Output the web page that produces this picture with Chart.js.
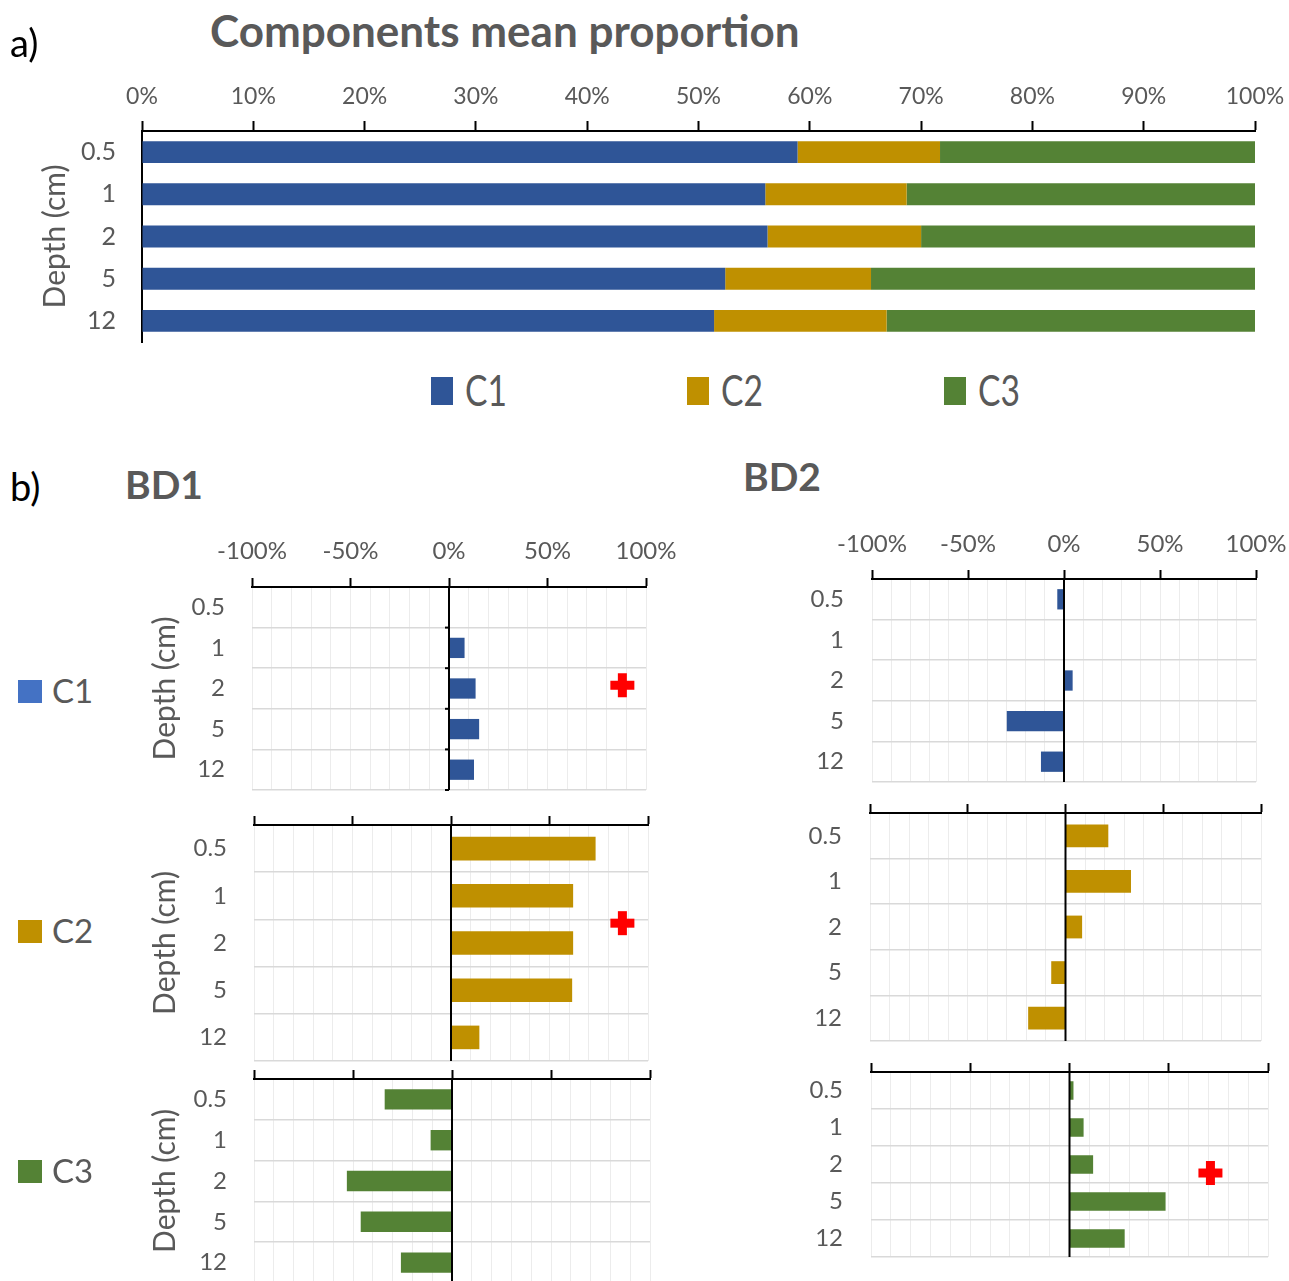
<!DOCTYPE html>
<html>
<head>
<meta charset="utf-8">
<title>Components mean proportion</title>
<script src="https://cdn.jsdelivr.net/npm/chart.js@4.4.1/dist/chart.umd.min.js"></script>
<style>
  html, body { margin: 0; padding: 0; background: #ffffff; }
  body { width: 1289px; height: 1281px; position: relative; overflow: hidden; font-family: Lato, "Open Sans", sans-serif; }
  .txt { position: absolute; white-space: nowrap; line-height: 1; }
  .swatch { position: absolute; }
  canvas { position: absolute; }
</style>
</head>
<body>
<canvas id="meanChart" width="1289" height="290" style="left:0;top:60px"></canvas>
<canvas id="bd1c1" width="586" height="281" style="left:100px;top:515px"></canvas>
<canvas id="bd1c2" width="588" height="265" style="left:100px;top:800px"></canvas>
<canvas id="bd1c3" width="590" height="224" style="left:100px;top:1062px"></canvas>
<canvas id="bd2c1" width="529" height="279" style="left:760px;top:508px"></canvas>
<canvas id="bd2c2" width="529" height="250" style="left:760px;top:795px"></canvas>
<canvas id="bd2c3" width="529" height="210" style="left:760px;top:1052px"></canvas>

<script>
// Sampling depths (cm), top to bottom
const depthLabels = ['0.5', '1', '2', '5', '12'];
const componentNames = ['C1', 'C2', 'C3'];

// Mean proportion of each component per depth (%)
const meanC1 = [58.9, 56.0, 56.2, 52.4, 51.4];
const meanC2 = [12.8, 12.7, 13.8, 13.1, 15.5];
const meanC3 = [28.3, 31.3, 30.0, 34.5, 33.1];

// Relative change per depth, site BD1 (%)
const bd1C1 = [0, 7.9, 13.5, 15.3, 12.7];
const bd1C2 = [73.4, 62.0, 62.0, 61.5, 14.4];
const bd1C3 = [-34.0, -10.8, -53.1, -46.1, -25.8];

// Relative change per depth, site BD2 (%)
const bd2C1 = [-3.5, 0, 4.5, -29.8, -12.0];
const bd2C2 = [21.9, 33.5, 8.5, -7.3, -19.1];
const bd2C3 = [2.0, 7.1, 11.9, 48.4, 27.8];

// Significance markers: [x value (%), depth position (category index)]
const bd1C1Mark = [88, 1.92];
const bd1C2Mark = [87, 1.58];
const bd2C3Mark = [71, 2.23];

const colours = { C1: '#2F5597', C2: '#BF9000', C3: '#548235' };
const sideKeyColours = { C1: '#4472C4', C2: '#BF9000', C3: '#548235' };
const textGrey = '#595959';

Chart.defaults.font.family = 'Lato, "Open Sans", sans-serif';
Chart.defaults.color = textGrey;

// ---------- plain text labels ----------
function placeText(txt, x, baseline, size, opts = {}) {
  const d = document.createElement('div');
  d.className = 'txt';
  d.textContent = txt;
  d.style.fontSize = size + 'px';
  d.style.left = x + 'px';
  d.style.top = (baseline - 0.887 * size) + 'px';
  d.style.color = opts.color || textGrey;
  d.style.fontWeight = opts.bold ? '700' : '400';
  if (opts.scaleX) { d.style.transformOrigin = 'left top'; d.style.transform = 'scaleX(' + opts.scaleX + ')'; }
  document.body.appendChild(d);
  return d;
}
function placeSwatch(x, y, w, h, colour) {
  const s = document.createElement('div');
  s.className = 'swatch';
  Object.assign(s.style, { left: x + 'px', top: y + 'px', width: w + 'px', height: h + 'px', background: colour });
  document.body.appendChild(s);
}

placeText('a)', 10, 57, 38, { color: '#000' });
placeText('Components mean proportion', 210, 47, 44, { bold: true });
placeText('b)', 10, 501, 38, { color: '#000' });
placeText('BD1', 125, 500, 39, { bold: true });
placeText('BD2', 743, 492, 39, { bold: true });

// legend of the stacked chart
const topKeyX = [431, 687, 944];
componentNames.forEach((name, i) => {
  placeSwatch(topKeyX[i], 377, 22, 28, colours[name]);
  placeText(name, topKeyX[i] + 34, 406, 42, { scaleX: 0.8 });
});

// side keys for the three rows of BD panels
const sideKeyY = [691, 931, 1171];
componentNames.forEach((name, i) => {
  placeSwatch(18, sideKeyY[i] - 11, 24, 23, sideKeyColours[name]);
  placeText(name, 52, sideKeyY[i] + 12, 33);
});

// ---------- overlay: zero axis, small depth ticks and markers ----------
const overlayPlugin = {
  id: 'overlay',
  afterDatasetsDraw(chart, args, opts) {
    const { ctx, chartArea, scales: { x, y } } = chart;
    ctx.save();
    if (opts.zeroLine) {
      const x0 = x.getPixelForValue(0);
      ctx.strokeStyle = '#000';
      ctx.lineWidth = 2;
      ctx.beginPath();
      ctx.moveTo(x0, chartArea.top);
      ctx.lineTo(x0, chartArea.bottom);
      ctx.stroke();
      if (opts.zeroTicks) {
        for (let i = 1; i <= depthLabels.length; i++) {
          const yb = y.getPixelForValue(i - 0.5);
          ctx.beginPath();
          ctx.moveTo(x0 - 4, yb);
          ctx.lineTo(x0, yb);
          ctx.stroke();
        }
      }
    }
    if (opts.mark) {
      const cx = x.getPixelForValue(opts.mark[0]);
      const cy = y.getPixelForValue(opts.mark[1]);
      const half = 12, arm = 4.5;
      ctx.fillStyle = '#FF0000';
      ctx.fillRect(cx - half, cy - arm, half * 2, arm * 2);
      ctx.fillRect(cx - arm, cy - half, arm * 2, half * 2);
    }
    ctx.restore();
  }
};

// ---------- a) stacked mean proportion ----------
new Chart(document.getElementById('meanChart'), {
  type: 'bar',
  data: {
    labels: depthLabels,
    datasets: [
      { label: 'C1', data: meanC1, backgroundColor: colours.C1 },
      { label: 'C2', data: meanC2, backgroundColor: colours.C2 },
      { label: 'C3', data: meanC3, backgroundColor: colours.C3 }
    ].map(d => Object.assign(d, { barPercentage: 0.52, categoryPercentage: 1, borderWidth: 0 }))
  },
  options: {
    indexAxis: 'y',
    responsive: false,
    animation: false,
    events: [],
    devicePixelRatio: 1,
    layout: { padding: { left: 0, top: 0, right: 34, bottom: 8 } },
    plugins: { legend: { display: false }, tooltip: { enabled: false } },
    scales: {
      x: {
        position: 'top', stacked: true, min: 0, max: 100,
        ticks: { stepSize: 10, autoSkip: false, maxRotation: 0, padding: 11, font: { size: 23 }, color: textGrey,
                 callback: v => v + '%' },
        grid: { drawOnChartArea: false, drawTicks: true, tickLength: 10, tickColor: '#000', tickWidth: 2 },
        border: { display: true, color: '#000', width: 2 },
        afterFit: s => { s.height = 71; s.paddingLeft = 0; s.paddingRight = 0; }
      },
      y: {
        stacked: true, z: 1,
        ticks: { autoSkip: false, padding: 26, font: { size: 25 }, color: textGrey },
        grid: { drawOnChartArea: false, drawTicks: false },
        border: { display: true, color: '#000', width: 2 },
        title: { display: true, text: 'Depth (cm)', font: { size: 30 }, color: textGrey, padding: { top: 37, bottom: 0 } },
        afterFit: s => { s.width = 142; s.paddingTop = 0; s.paddingBottom = 0; }
      }
    }
  }
});

// ---------- b) change panels ----------
// spec.left/top/right/bottom: chart-area edges in canvas coordinates
function changePanel(id, values, colour, spec) {
  const cv = document.getElementById(id);
  new Chart(cv, {
    type: 'bar',
    data: {
      labels: depthLabels,
      datasets: [{ data: values, backgroundColor: colour, barPercentage: 0.5, categoryPercentage: 1, borderWidth: 0 }]
    },
    options: {
      indexAxis: 'y',
      responsive: false,
      animation: false,
      events: [],
      devicePixelRatio: 1,
      layout: { padding: { left: 0, top: 0, right: cv.width - spec.right, bottom: cv.height - spec.bottom } },
      plugins: {
        legend: { display: false }, tooltip: { enabled: false },
        overlay: { zeroLine: true, zeroTicks: !!spec.zeroTicks, mark: spec.mark || null }
      },
      scales: {
        x: {
          position: 'top', min: -100, max: 100,
          ticks: { display: !!spec.showTicks, stepSize: 10, autoSkip: false, maxRotation: 0, padding: spec.tickPad || 12,
                   font: { size: 24 }, color: textGrey,
                   callback: v => (v % 50 === 0 ? v + '%' : '') },
          grid: {
            color: c => (c.tick && c.tick.value === 0 ? 'rgba(0,0,0,0)' : '#ececec'),
            lineWidth: 1,
            drawTicks: true, tickLength: 9, tickWidth: 2,
            tickColor: c => (c.tick && c.tick.value % 50 === 0 ? '#000' : 'rgba(0,0,0,0)')
          },
          border: { display: true, color: '#000', width: 2 },
          afterFit: s => { s.height = spec.top; s.paddingLeft = 0; s.paddingRight = 0; }
        },
        y: {
          ticks: { autoSkip: false, padding: spec.labelPad, font: { size: 24 }, color: textGrey },
          grid: { offset: true, color: '#d9d9d9', lineWidth: 1.5, drawTicks: false },
          border: { display: false },
          title: { display: !!spec.yTitle, text: 'Depth (cm)', font: { size: 30 }, color: textGrey, padding: { top: 47, bottom: 0 } },
          afterFit: s => { s.width = spec.left; s.paddingTop = 0; s.paddingBottom = 0; }
        }
      }
    },
    plugins: [overlayPlugin]
  });
}

changePanel('bd1c1', bd1C1, colours.C1, { left: 152, top: 72, right: 546, bottom: 275, showTicks: true, tickPad: 12.6, labelPad: 27, yTitle: true, zeroTicks: true, mark: bd1C1Mark });
changePanel('bd1c2', bd1C2, colours.C2, { left: 154, top: 25, right: 548, bottom: 261, labelPad: 27, yTitle: true, mark: bd1C2Mark });
changePanel('bd1c3', bd1C3, colours.C3, { left: 154, top: 17, right: 550, bottom: 221, labelPad: 27, yTitle: true });
changePanel('bd2c1', bd2C1, colours.C1, { left: 112, top: 71, right: 496, bottom: 274, showTicks: true, tickPad: 11.6, labelPad: 28 });
changePanel('bd2c2', bd2C2, colours.C2, { left: 110, top: 18, right: 501, bottom: 246, labelPad: 28 });
changePanel('bd2c3', bd2C3, colours.C3, { left: 111, top: 20, right: 508, bottom: 205, labelPad: 28, mark: bd2C3Mark });
</script>
</body>
</html>
